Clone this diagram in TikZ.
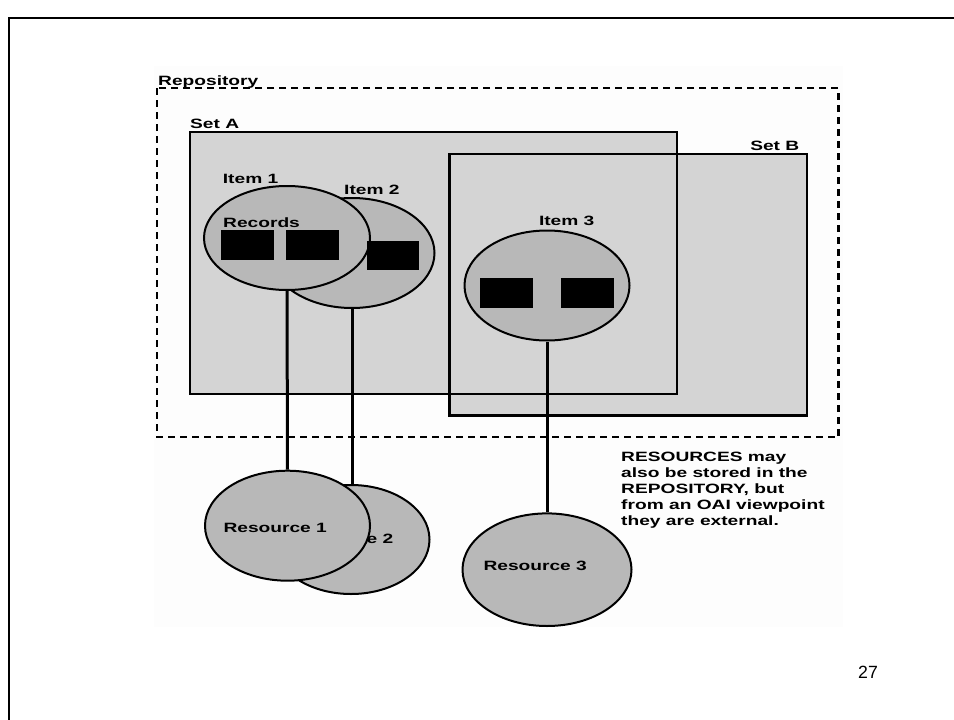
\documentclass[tikz,border=0pt]{standalone}
\usepackage{fontspec}
\setmainfont{Liberation Sans}
\newfontfamily\lbl{Liberation Sans Bold}[FakeStretch=1.42]
\usetikzlibrary{shapes.geometric}
\definecolor{setfill}{RGB}{212,212,212}
\definecolor{itemfill}{RGB}{184,184,184}
\definecolor{bgfill}{RGB}{253,253,253}
\tikzset{
  lab/.style={inner sep=0pt, font=\lbl\fontsize{13.5}{16.2}\selectfont, anchor=base west},
  setbox/.style={line width=2.2pt, draw=black},
  blob/.style={ellipse, draw=black, line width=2pt, fill=itemfill, inner sep=0pt},
  rec/.style={rectangle, fill=black, draw=black, line width=0.5pt, inner sep=0pt},
  link/.style={line width=3pt},
}
\begin{document}
\begin{tikzpicture}[x=1pt,y=-1pt]
\useasboundingbox (0,0) rectangle (954,720);
% slide frame
\draw[line width=2pt] (9,730) -- (9,18) -- (960,18);
% faint picture background
\fill[bgfill] (154,66) rectangle (843,627);
% repository
\draw[line width=2.2pt, dash pattern=on 7pt off 5pt] (157,88) rectangle (838.5,437);
\node[lab] (repo) at (158,85) {Repository};
% sets
\fill[setfill] (190,132) rectangle (677,394);
\fill[setfill] (449.5,154) rectangle (807,415.5);
\draw[setbox] (190,132) rectangle (677,394);
\draw[setbox] (449.5,154) rectangle (807,415.5);
\node[lab] (seta) at (190,128.3) {Set A};
\node[lab, anchor=base east] (setb) at (799.5,150) {Set B};
% items
\node[blob, minimum width=165pt, minimum height=110pt] (item2) at (352,253) {};
\node[blob, minimum width=166pt, minimum height=104pt] (item1) at (287,238) {};
\node[blob, minimum width=165pt, minimum height=110pt] (item3) at (547,285.5) {};
\node[lab] (item1l) at (222.7,183.3) {Item 1};
\node[lab] (item2l) at (344,194.3) {Item 2};
\node[lab, anchor=base] (item3l) at (566.7,225.7) {Item 3};
\node[lab] (recl) at (223,227.3) {Records};
% records
\node[rec, minimum width=51.7pt, minimum height=28.7pt] (r1a) at (246.9,244.4) {};
\node[rec, minimum width=52.3pt, minimum height=28.7pt] (r1b) at (311.9,244.4) {};
\node[rec, minimum width=51pt, minimum height=28.3pt] (r2a) at (392.8,255.2) {};
\node[rec, minimum width=52.3pt, minimum height=29pt] (r3a) at (506.2,293.2) {};
\node[rec, minimum width=51.6pt, minimum height=29pt] (r3b) at (587.5,293.2) {};
% resources
\node[blob, minimum width=157pt, minimum height=109pt] (res2) at (351,539.5) {};
\node[lab] (res2l) at (289.7,543.3) {Resource 2};
\node[blob, minimum width=165pt, minimum height=110pt] (res1) at (287.5,525.7) {};
\node[lab] (res1l) at (223.3,532.3) {Resource 1};
\node[blob, minimum width=169pt, minimum height=112.6pt] (res3) at (547,569.7) {};
\node[lab] (res3l) at (483.3,570) {Resource 3};
% connectors
\draw[link] (item1.south) -- (res1.north);
\draw[link] (item2.south) -- (item2.south |- res2.north);
\draw[link] (item3.south) -- (res3.north);
% note
\node[lab] (note) at (621,461) {\parbox[t]{230pt}{\lbl\fontsize{13.5}{16.2}\selectfont RESOURCES may\\also be stored in the\\REPOSITORY, but\\from an OAI viewpoint\\they are external.}};
% page number
\node[inner sep=0pt, anchor=base west, font=\fontsize{17.7}{20}\selectfont] (pnum) at (858,678.7) {27};
\end{tikzpicture}
\end{document}
